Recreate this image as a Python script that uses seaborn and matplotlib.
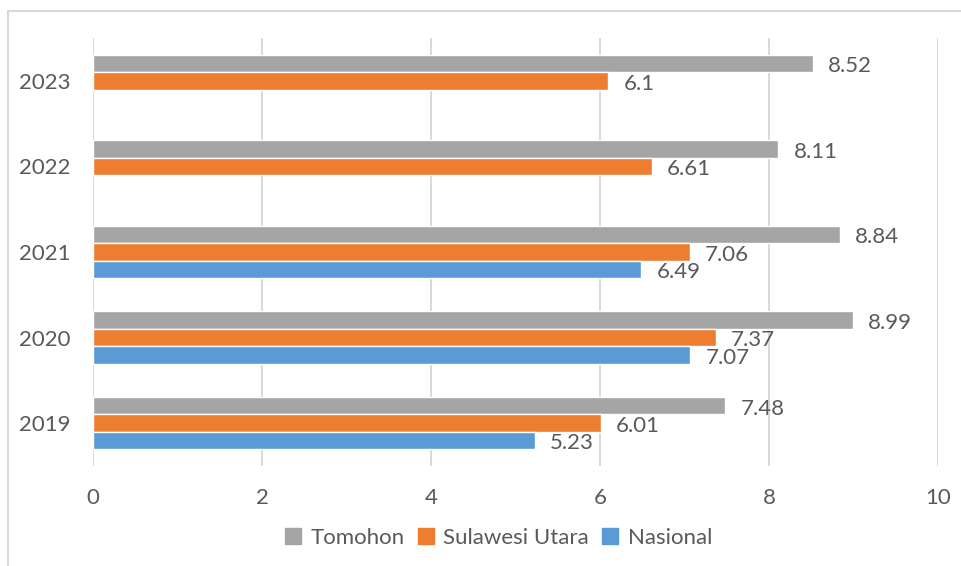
import numpy as np
import pandas as pd
import matplotlib
matplotlib.use("Agg")
import matplotlib.pyplot as plt
from matplotlib.patches import Rectangle
from matplotlib.lines import Line2D
import seaborn as sns

years = ["2023", "2022", "2021", "2020", "2019"]
series = ["Tomohon", "Sulawesi Utara", "Nasional"]
tomohon = [8.52, 8.11, 8.84, 8.99, 7.48]
sulut = [6.10, 6.61, 7.06, 7.37, 6.01]
nasional = [np.nan, np.nan, 6.49, 7.07, 5.23]
colors = ["#A5A5A5", "#ED7D31", "#5B9BD5"]
xticks = [0, 2, 4, 6, 8, 10]

df = pd.DataFrame({
    "Tahun": years * 3,
    "Seri": [s for s in series for _ in years],
    "Nilai": tomohon + sulut + nasional,
})

sns.set_theme(style="white")
plt.rcParams["font.family"] = ["Lato", "DejaVu Sans"]
text_color = "#595959"
grid_color = "#D9D9D9"
fs = 16

fig = plt.figure(figsize=(9.61, 5.66), dpi=100)
ax = fig.add_axes([93 / 961, 100 / 566, 845 / 961, 428 / 566])

sns.barplot(data=df, y="Tahun", x="Nilai", hue="Seri", order=years,
            hue_order=series, palette=colors, orient="h", width=0.61,
            errorbar=None, saturation=1, legend=False, ax=ax)

for cont in ax.containers:
    anns = ax.bar_label(cont, fmt="{:g}", padding=11, fontsize=fs,
                        color=text_color)
    for a in anns:
        a.xyann = (11, -2)

ax.set_xlim(0, 10)
ax.set_xticks(xticks)
ax.set_xticklabels([str(t) for t in xticks])
ax.xaxis.grid(True, color=grid_color, linewidth=1.4)
ax.set_axisbelow(True)
for s in ax.spines.values():
    s.set_visible(False)
ax.tick_params(axis="both", length=0, labelsize=fs, labelcolor=text_color)
ax.tick_params(axis="x", pad=16)
ax.tick_params(axis="y", pad=16)
ax.set_xlabel("")
ax.set_ylabel("")

handles = [Line2D([0], [0], marker="s", linestyle="none", markersize=11,
                  markerfacecolor=c, markeredgecolor=c) for c in colors]
fig.legend(handles, series, loc="center", bbox_to_anchor=(497 / 961, 28 / 566),
           ncol=3, frameon=False, fontsize=fs, labelcolor=text_color,
           handletextpad=0.3, columnspacing=0.45, handlelength=1.0)

fig.add_artist(Rectangle((8 / 961, -0.2), 1.2, 1.2 - 11 / 566,
                         transform=fig.transFigure, fill=False,
                         edgecolor=grid_color, linewidth=1.5))

fig.savefig("out.png", dpi=100)
